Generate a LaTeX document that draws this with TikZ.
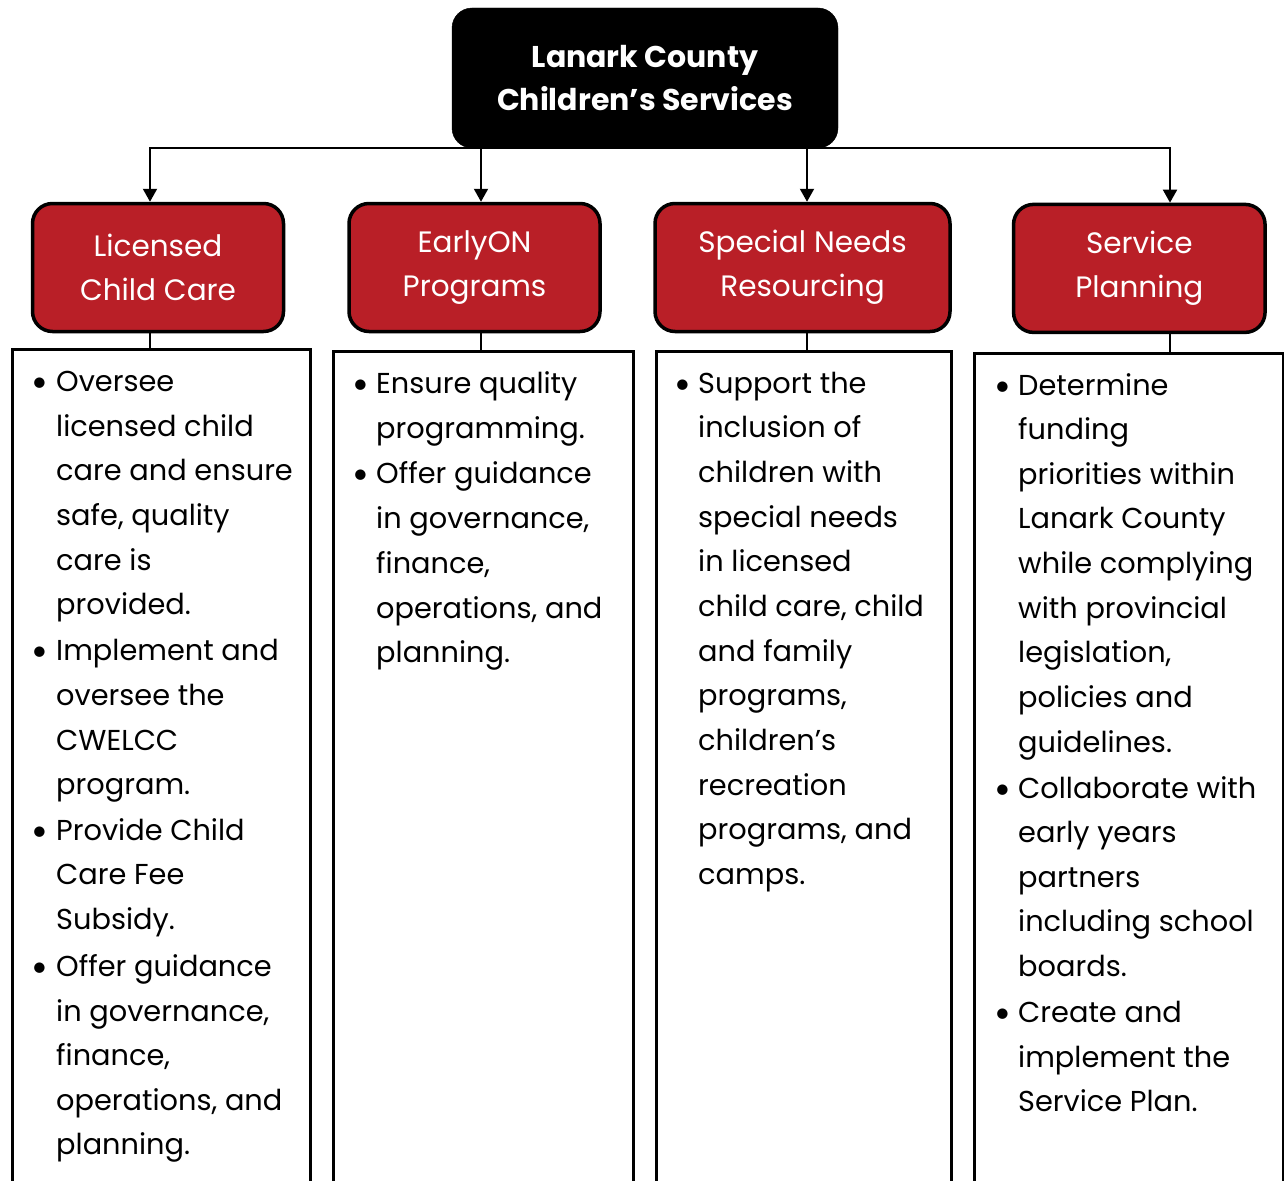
\documentclass[tikz,border=0pt]{standalone}
\usepackage{fontspec}
\setmainfont{Poppins}
\newfontfamily\bulletfont{Lato}
\usetikzlibrary{arrows.meta}
\definecolor{lcred}{RGB}{185,31,39}
\begin{document}
\begin{tikzpicture}[x=1pt,y=-1pt,
  topbox/.style={draw=black, fill=black, rounded corners=20pt, minimum width=386pt, minimum height=140pt, text=white, font=\fontsize{30}{43}\selectfont\bfseries, align=center, inner sep=0pt},
  redbox/.style={draw=black, line width=3.5pt, fill=lcred, rounded corners=20pt, minimum height=128pt, text=white, font=\fontsize{29.5}{44}\selectfont, align=center, inner sep=0pt},
  txtbox/.style={draw=black, line width=3pt, minimum height=1000pt, anchor=north west, inner sep=0pt, outer sep=0pt},
  conn/.style={line width=2pt},
  arr/.style={line width=2pt, -{Triangle[width=14pt,length=13pt]}},
  tline/.style={anchor=base west, inner sep=0pt, font=\fontsize{28.8}{32}\selectfont},
  bul/.style={anchor=base, inner sep=0pt, font=\bulletfont\fontsize{28}{32}\selectfont},
]
\useasboundingbox (0,0) rectangle (1284,1180);
\fill[white] (0,0) rectangle (1284,1180);

% top box
\node[topbox] (top) at (645,78) {Lanark County\\Children’s Services};

% red boxes
\node[redbox, minimum width=251pt] (r1) at (158,267.5) {Licensed\\Child Care};
\node[redbox, minimum width=251pt] (r2) at (474.5,267.5) {EarlyON\\Programs};
\node[redbox, minimum width=295pt] (r3) at (802.5,267.5) {Special Needs\\Resourcing};
\node[redbox, minimum width=251.5pt] (r4) at (1139.3,268.4) {Service\\Planning};

% arrow targets
\coordinate (a1) at (r1.north -| 150,0);
\coordinate (a2) at (r2.north -| 481,0);
\coordinate (a3) at (r3.north -| 807,0);
\coordinate (a4) at (r4.north -| 1170,0);

% text boxes (open at the bottom)
\node[txtbox, minimum width=298.5pt] (t1) at (12,349.8) {};
\node[txtbox, minimum width=300pt] (t2) at (333.5,351.5) {};
\node[txtbox, minimum width=295pt] (t3) at (656,351.5) {};
\node[txtbox, minimum width=309pt] (t4) at (974.5,353.5) {};

% connectors
\draw[arr] (top.south) -| (a1);
\draw[arr] (top.south) -| (a2);
\draw[arr] (top.south) -| (a3);
\draw[arr] (top.south) -| (a4);
\draw[conn] (r1.south -| a1) -- (t1.north -| a1);
\draw[conn] (r2.south -| a2) -- (t2.north -| a2);
\draw[conn] (r3.south -| a3) -- (t3.north -| a3);
\draw[conn] (r4.south -| a4) -- (t4.north -| a4);

% column 1
\foreach \y [count=\i] in {391.5,660.5,840.5,976.5}
  \node[bul] (b1-\i) at (39.5,\y) {•};
\foreach \y/\t [count=\i] in {391.5/Oversee, 436.5/licensed child, 480.5/care and ensure, 525.5/{safe, quality}, 570.5/care is, 614.5/provided., 660.5/Implement and, 705.5/oversee the, 750.5/CWELCC, 794.5/program., 840.5/Provide Child, 884.5/Care Fee, 929.5/Subsidy., 976.5/Offer guidance, 1021.5/{in governance,}, 1065.5/{finance,}, 1110.5/{operations, and}, 1154.5/planning.}
  \node[tline] (c1-\i) at (56,\y) {\t};

% column 2
\foreach \y [count=\i] in {393.5,483.5}
  \node[bul] (b2-\i) at (360.5,\y) {•};
\foreach \y/\t [count=\i] in {393.5/Ensure quality, 438.5/programming., 483.5/Offer guidance, 528.5/{in governance,}, 573.5/{finance,}, 618.5/{operations, and}, 662.5/planning.}
  \node[tline] (c2-\i) at (376,\y) {\t};

% column 3
\node[bul] (b3-1) at (682.5,393.5) {•};
\foreach \y/\t [count=\i] in {393.5/Support the, 437.5/inclusion of, 482.5/children with, 527.5/special needs, 571.5/in licensed, 616.5/{child care, child}, 661.5/and family, 705.5/{programs,}, 750.5/children's, 795.5/recreation, 839.5/{programs, and}, 884.5/camps.}
  \node[tline] (c3-\i) at (698,\y) {\t};

% column 4
\foreach \y [count=\i] in {395.5,798.5,1022.5}
  \node[bul] (b4-\i) at (1002.5,\y) {•};
\foreach \y/\t [count=\i] in {395.5/Determine, 439.5/funding, 484.5/priorities within, 528.5/Lanark County, 573.5/while complying, 618.5/with provincial, 662.5/{legislation,}, 707.5/policies and, 752.5/guidelines., 798.5/Collaborate with, 842.5/early years, 887.5/partners, 931.5/including school, 976.5/boards., 1022.5/Create and, 1067.5/implement the, 1111.5/Service Plan.}
  \node[tline] (c4-\i) at (1018,\y) {\t};
\end{tikzpicture}
\end{document}
